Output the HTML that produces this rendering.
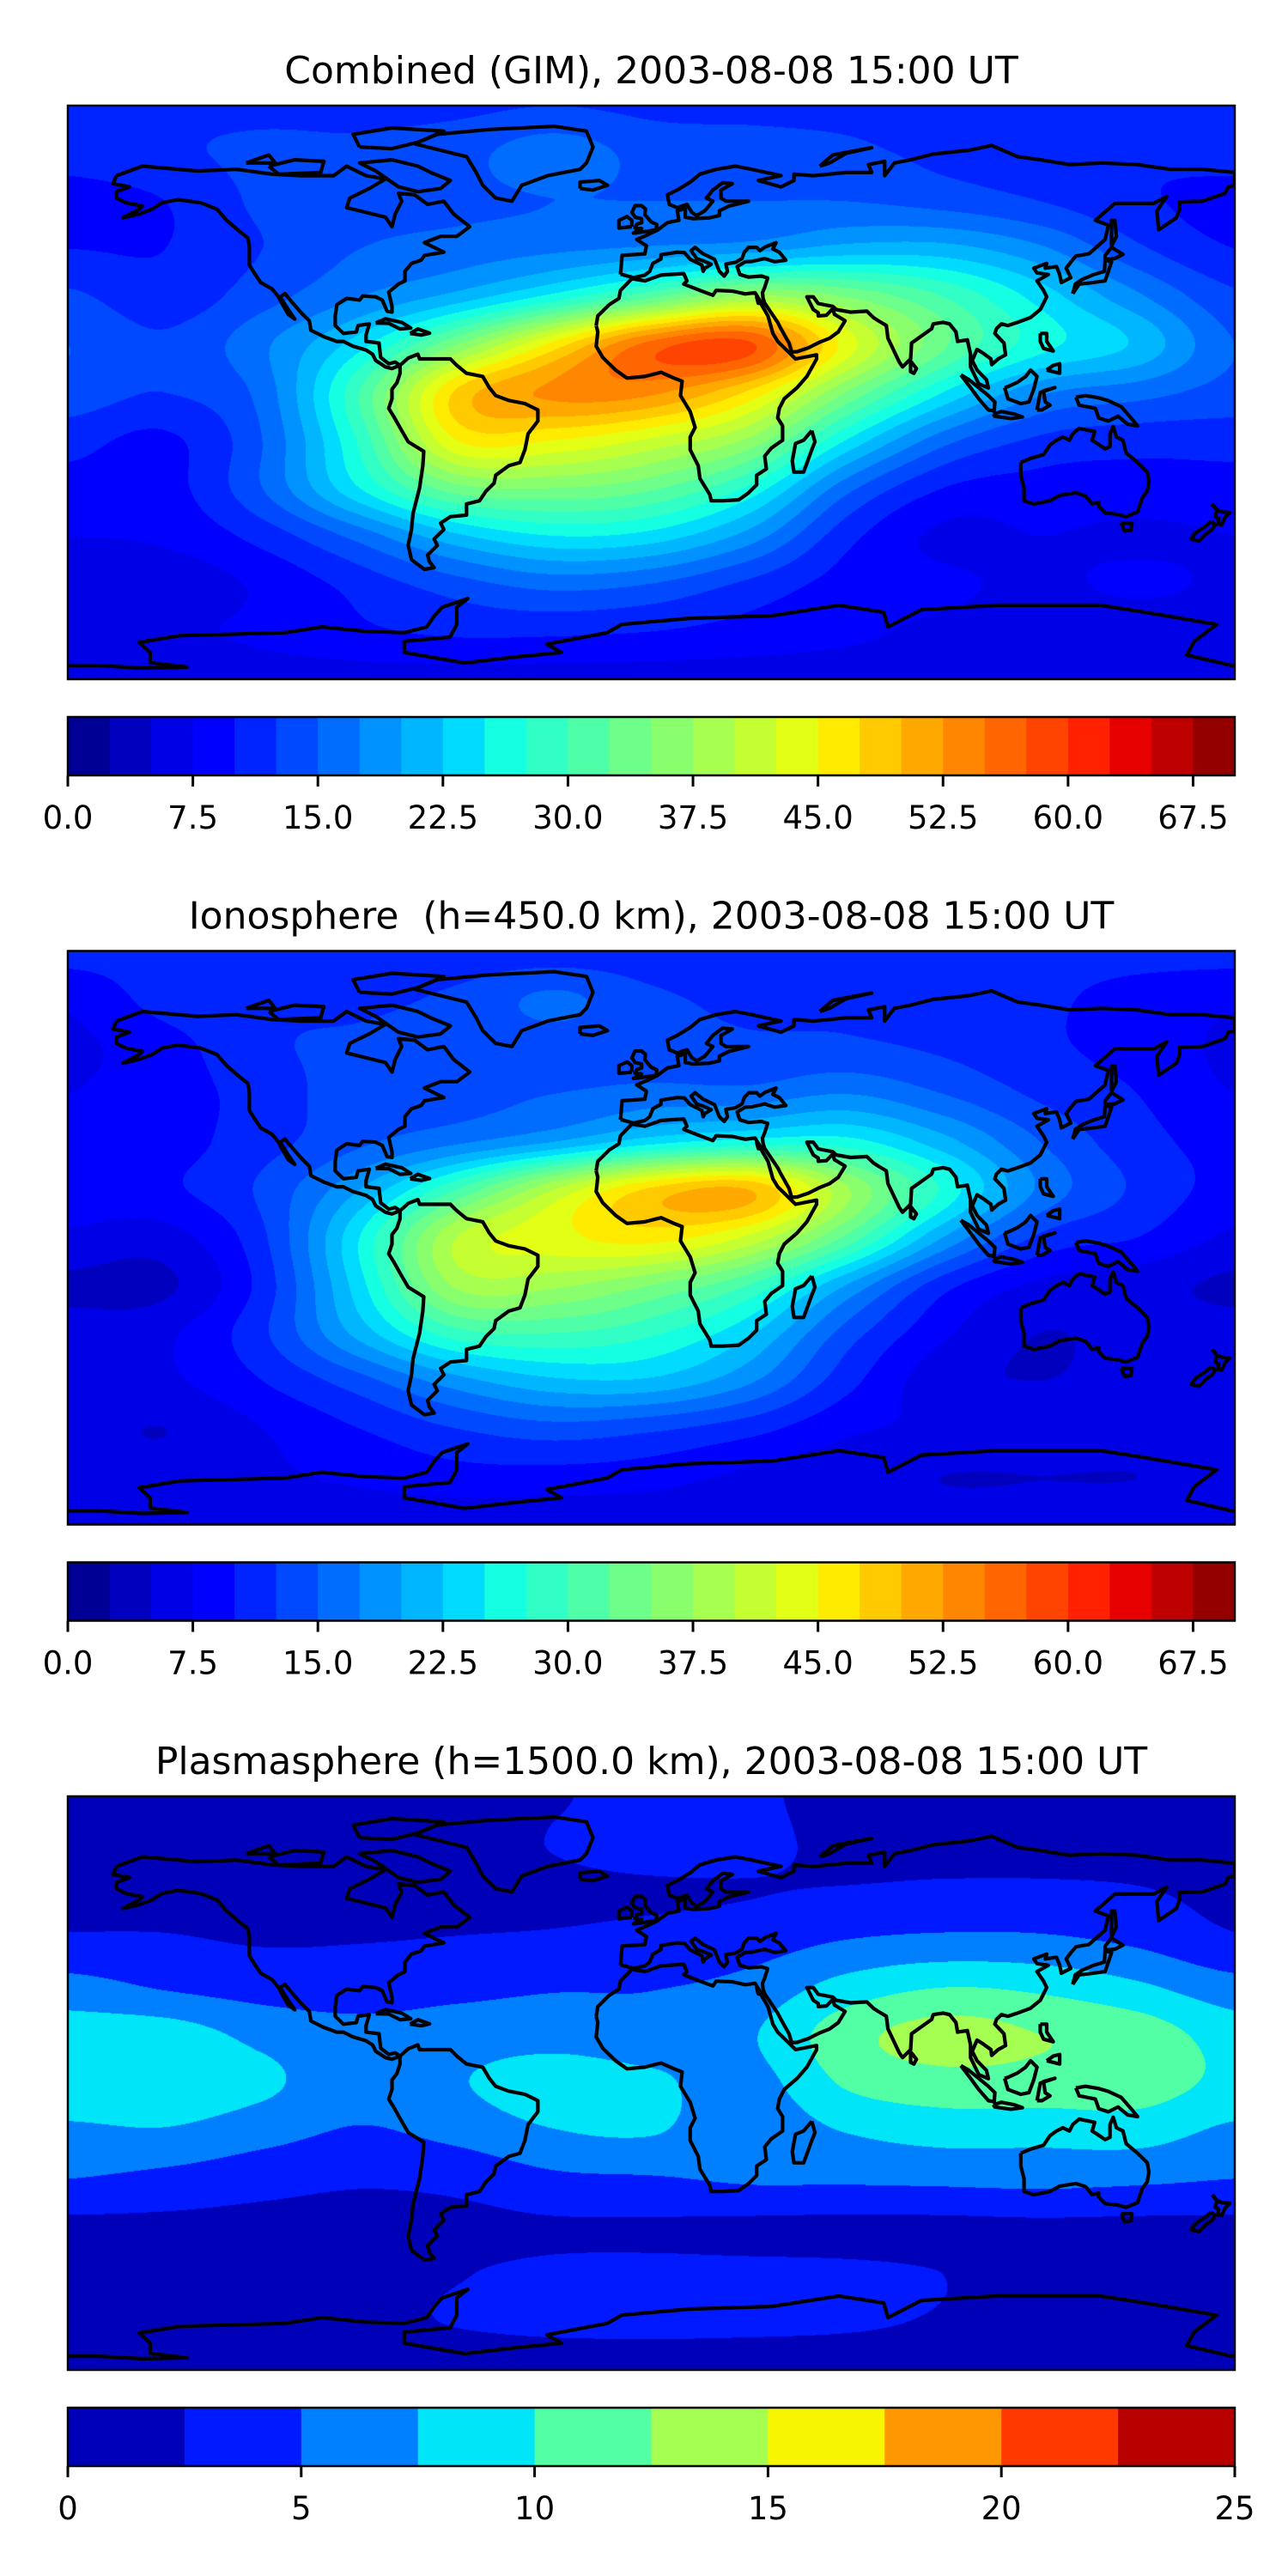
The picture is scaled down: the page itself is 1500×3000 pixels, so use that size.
<!DOCTYPE html>
<html><head><meta charset="utf-8"><title>TEC maps</title>
<style>
html,body{margin:0;padding:0;background:#fff;}
#wrap{position:relative;width:1500px;height:3000px;overflow:hidden;}
canvas{position:absolute;}
svg{position:absolute;left:0;top:0;}
</style></head>
<body>
<div id="wrap">
<canvas id="c0" width="1359" height="668" style="left:79px;top:123px"></canvas>
<canvas id="c1" width="1359" height="668" style="left:79px;top:1107px"></canvas>
<canvas id="c2" width="1359" height="668" style="left:79px;top:2092px"></canvas>
<svg id="ov" width="1500" height="3000" xmlns="http://www.w3.org/2000/svg"></svg>
</div>
<script>
// ---- data ----
const lons = [-180,-150,-120,-90,-60,-30,0,30,60,90,120,150,180];
const lats = [90,75,60,45,30,15,0,-15,-30,-45,-60,-75,-90];
const combinedTEC = [
[11.5,12,12,12,12,12.5,12,12,12,12,12,11.5,11.5],
[11,12,13,13,14,16.5,14,13.5,13,12,11.5,10.5,11],
[9,10,13,14,14.5,15,15,15,15,14,12.5,10.5,9],
[10,10,12.5,15,16,17,18,19,21,21,18,13,10],
[13,11,14,17.5,21,26,32,38,35,30,24,18,13],
[15,13,17,24,35,46,56,58,44,33,26,22,15],
[14,12.5,16,30,48,53,53,47,35,25,18,16,14],
[11,9.5,15,28,45,45,42,37,25,16,12,11,11],
[9,9,15,25,34,35,33,27,16,10,9,9,9],
[7.5,8,11,16,22,25,24,19,11,7,7.5,7,7.5],
[7,6,8,11,14,16,15,12,9,8,7,8,7],
[6.5,7,8,9.5,10.5,10.5,10,9,8,7,6.5,6,6.5],
[6.5,6.5,6.5,6.5,6.5,6.5,6.5,6.5,6.5,6.5,6.5,6.5,6.5]];
const ionoTEC = [
[11,11,11,11,11,11,11,11,11,11,11,11,11],
[8,11,12,12,13,15.5,13,12,12,11,10.5,9,8],
[7,9,12,13,13.5,14,13.5,13,13,12,10.5,9,7],
[7.5,9,11,14,14,15,16,16,17.5,15,12,10,7.5],
[9,9,11.5,14.5,17,20,24,26,26,21,15,11,9],
[9,9.5,13,20,30,40,48,50,38,27,17,12,9],
[7,6.5,12,25,40,44,46,42,32,20,12,10,7],
[4.5,4.5,11,24,38,38,35,30,20,11,7,6,4.5],
[6,7,12,21,29,30,28,23,14,8,5,6,6],
[6.5,7,10,14,19,22,22,18,11,6,5,6,6.5],
[6,5,7.5,10,12.5,14,13,11,8,7,6.5,6,6],
[5.5,6,7,8,9,9,8.5,7,6,5,5,5,5.5],
[6,6,6,6,6,6,6,6,6,6,6,6,6]];
const plasmaTEC = [
[1.5,1.5,1.5,1.5,1.5,2.3,3.2,3.0,1.5,1.5,1.5,1.5,1.5],
[1.5,1.5,1.5,1.5,1.5,2.6,3.4,3.2,1.8,1.6,1.6,1.5,1.5],
[1.8,1.8,1.5,1.5,1.8,2.0,2.2,2.4,2.7,3.0,3.0,2.7,1.8],
[2.8,2.7,2.3,2.4,2.6,2.8,3.2,3.8,5.0,5.5,5.4,4.5,2.8],
[6.0,4.8,4.0,3.8,4.3,4.8,4.9,5.8,8.5,10,9.5,8.0,6.0],
[8.8,8.8,6.8,5.8,6.3,6.5,6.0,7.2,11.5,13.5,12.5,11.5,8.8],
[9.3,9.3,8.0,6.0,7.3,8.8,8.0,6.5,10.3,11.5,11.5,11.3,9.3],
[7.0,7.3,6.0,4.8,5.8,7.4,7.7,5.8,7.6,8.5,8.4,8.6,7.0],
[5.0,4.3,3.4,2.8,3.2,4.5,4.8,5.3,5.4,5.6,5.8,5.5,5.0],
[1.9,1.9,1.8,1.8,1.9,2.2,2.2,2.0,1.9,1.9,2.0,1.9,1.9],
[1.4,1.4,1.5,1.7,2.4,2.9,3.0,3.0,2.9,2.5,1.8,1.4,1.4],
[1.5,1.6,1.8,2.0,2.6,3.0,3.1,3.0,2.8,2.3,1.8,1.6,1.5],
[1.2,1.2,1.2,1.2,1.2,1.2,1.2,1.2,1.2,1.2,1.2,1.2,1.2]];
const levelMaxIono = 70, levelStepIono = 2.5;
const levelMaxPlasma = 25, levelStepPlasma = 2.5;
const ticksIono = ["0.0","7.5","15.0","22.5","30.0","37.5","45.0","52.5","60.0","67.5"];
const tickValsIono = [0,7.5,15,22.5,30,37.5,45,52.5,60,67.5];
const ticksPlasma = ["0","5","10","15","20","25"];
const tickValsPlasma = [0,5,10,15,20,25];
const titles = ["Combined (GIM), 2003-08-08 15:00 UT","Ionosphere  (h=450.0 km), 2003-08-08 15:00 UT","Plasmasphere (h=1500.0 km), 2003-08-08 15:00 UT"];

// ---- coastlines (lon,lat) ----
const coasts = {
"north-america":[-165,68,-157,71,-140,69.5,-128,70,-117,68.5,-108,68,-98,68,-94,71,-88,68,-82,67,-87,64,-93,61,-94,58,-90,57,-82,55,-80,52,-79,56,-77,60,-78,62.5,-73,62,-69,59,-64,60,-61,56,-56,52,-60,49,-65,49,-70,47,-66,45,-64,44,-70,43,-71,41.5,-74,40.5,-76,38,-76,35,-78,34,-81,31.5,-80,27,-80,25.2,-81.5,25.5,-83,29,-85,30,-89,30.3,-90,29,-94,29.5,-97,27.5,-97.5,24,-97.5,21,-95,18.5,-91,19,-90.5,21,-87,21.5,-88,18,-88,16,-84,15.5,-83.5,11,-81,9,-79,9.5,-77.5,8.5,-80,7.5,-82,8,-85,10,-86,12,-88,13.3,-92,14.5,-95,16,-97,16,-101,17.5,-105,19.5,-105.5,22.5,-108,25,-111,28.5,-113,31,-114.5,30,-112,26,-110,23,-112,24.5,-114,28,-115,30,-117,32.5,-120.5,34.5,-122.5,37.5,-124,40,-124,46,-124.5,48.5,-127,50.5,-131,54,-134,57.5,-139,59.5,-146,60.5,-151,59.5,-154,57.5,-158,56,-163,54.8,-158,57.5,-157,58.5,-162,59.5,-165,61,-165,63,-161,64.5,-166,65.5,-165,68],
"greenland":[-73,78,-66,81,-50,82.5,-30,83.5,-20,82,-18,77,-20,72,-22,70,-32,68,-40,65,-43,60,-48,61,-52,65,-54,69,-57,74,-65,76,-73,78],
"baffin":[-80,73,-72,71,-68,69,-62,66.5,-65,64,-72,63,-78,64.5,-85,69.5,-90,72,-80,73],
"victoria":[-118,71,-110,73,-101,72.5,-102,69,-115,68.5,-118,71],
"ellesmere":[-90,77,-80,76.5,-72,78.5,-64,82,-80,83,-92,81,-90,77],
"banks":[-125,72,-118,74.5,-116,72,-125,72],
"south-america":[-77.5,8.5,-75,10.8,-72,12,-71.5,10.5,-68,10.5,-62,10.5,-60,8.5,-57,6,-52,5,-50,1.5,-48,-1,-44,-2.5,-39,-3.5,-35,-5.5,-35,-9,-38,-13,-39,-18,-40.5,-22,-44,-23,-48,-26,-48.5,-28.5,-51,-31,-53,-34,-57,-35,-57,-38.5,-62,-39,-65,-41,-64,-43,-67,-46,-66,-48,-69,-51,-68.5,-53,-67,-55,-70,-55.5,-74,-52.5,-75,-48,-74,-43,-73.5,-38,-71.5,-30,-70.5,-23,-70.2,-18.5,-75,-15.5,-77,-12,-79.5,-7.5,-81,-5,-80,-2,-80,1,-78.5,3,-77.5,6,-77.5,8.5],
"africa":[-17,21,-16.5,24,-13,27.5,-10,29.5,-9.5,32,-6,35.7,-2,35,3,36.8,10,37.3,11,35,10,34,15,32,19,30.5,20,32,25,31.8,29,30.9,32,31.3,34,28,33,28,32.5,29.9,34,27.5,36,24,37.5,18.5,39,16,42,13,43.5,11.5,44.5,10.5,51,11.8,51,10.5,48,5,45,1.5,41,-2,39.5,-5,39,-8,40.5,-10.5,40.5,-15,37,-17.5,35,-20,35.5,-24,32.5,-26,32.5,-29,30,-31.5,27,-33.7,22,-34,18.5,-34,18,-32,15,-27,14.5,-23,12,-18,12,-14,13.5,-11,12,-6,9,-1,9.5,3.5,7,4.5,3,6.3,-2,5,-7.5,4.5,-11,7,-13.5,9.5,-15,11,-17,14.5,-16.5,19,-17,21],
"madagascar":[49.5,-12,50.5,-15.5,49.5,-18,47,-25,44,-25,43.5,-21.5,44.5,-16,47,-15,49.5,-12],
"eurasia":[-9.5,37,-9,43,-2,43.5,-1.5,46,-4.5,48,-1,49.5,2,51,5,53.3,8.5,54,8,57,10.5,57.7,10.5,55,13,54.5,18,54.8,21,55.5,21,57,24,58.5,30,60,23,60,21.5,61,21.5,63.5,25,65.5,22,65.8,19,63.5,17,61,19,60,16.5,57,14,55.5,12.5,56.5,11,59,8,58,5.5,59,5,62,8,63.5,12,66,15,68.5,20,70,26,71,31,70,40,68,33,66.5,40,64.5,44,66.5,44,68.5,50,68,55,68.5,60,69,68,69,67,71.5,72,72.5,72,68,75,72,80,73,87,74.8,98,76,105,77.5,113,74,120,73,129,71.5,139,72,150,71.5,160,70,170,70,180,69,180,65,178,64.5,177,62.5,170,60,163,59.8,163,57.5,162,54.8,156.5,51,156,57,159,61.5,155,59.3,148,59.3,143,59.3,137,54,141,52.5,140,48,135,43.5,131,42.8,129.5,41,128,39,129.4,36,126.5,34.5,126,37,125,39.5,121.5,39,122,40.5,118,39,119,37.5,122.5,37,119,35,121,32,122,30,120,26,117,23.5,113,22,110,21,108,21.5,106.5,20,106,18.5,108.8,15.5,109.3,11.8,107,10.5,105,8.7,104.8,10.5,102.5,12.2,100.5,13.5,99,10,100.5,7,103.4,4,104,1.4,101,2.7,98.5,8,98.5,12,97.5,16.5,94.5,16,94,19,92,21.5,90,22,87,21.5,86.5,20,80.3,15.5,80,10.5,77.5,8,76.5,9.5,73,17,72.5,21,70,22.5,68.5,23.5,66.5,25.5,61.5,25.2,57,26,56,27,51.5,27.9,50,30,48,30,50,26,51.5,25,51.5,24,54,24.2,56,26.3,56.5,24.5,59.8,22.5,57.7,19,55,17,52,15.8,48.5,14,45,12.8,43.3,12.7,42.5,15.5,40,20,39,22,35,28,34.5,29.5,34.3,31.3,35,33,35.9,35.9,34,36.5,30,36.2,27.3,37,26.5,39.5,29,41,31,41.1,35,42,38,41,41.5,41.5,39.5,44,37.5,45,38.5,47,35,45.6,33.5,44.5,32.5,45.5,30,45.5,28.7,44,28,42,26,40.8,23,40.3,23.5,38,22.5,36.5,21,38,19.5,41.8,16,43.5,13.5,45.5,12.3,44.5,14,42,16,41.3,18.5,40.2,16.5,39,16,38,15.6,40,12,41.8,10.2,43.9,8,44,3,43.2,3,41.9,0.5,40.5,-0.5,38,-2,36.8,-5.5,36,-9,37,-9.5,37],
"great-britain":[-5,50,1.5,51,1.7,52.7,0,53.5,-2,55.8,-1.8,57.6,-3,58.6,-5,58.6,-6,56.5,-5,55,-3,54.5,-3,53.3,-4.5,52.8,-5,51.6,-3,51.4,-5.5,50,-5,50],
"ireland":[-6,52,-6,54,-7.5,55.2,-10,54,-10,51.6,-6,52],
"iceland":[-22,64,-22,66,-16,66.5,-13.5,65,-18,63.5,-22,64],
"novaya-zemlya":[52,71,56,74.5,68,76.8,60,75,55,72,52,71],
"honshu":[130,31,132,34,135,34.3,140,35,141,38,142,41,140,41.5,139.8,38,136.5,37,133,35.5,130.8,34,130,31],
"hokkaido":[140,41.8,143,42,145.5,43.3,142,45.5,140,43,140,41.8],
"sakhalin":[142,46,143.5,49,143,54,142,54,142,50,142,46],
"luzon":[120,18.5,122,18.5,122,16,124,13,121,13.8,120,16,120,18.5],
"mindanao":[122,7,126,6,126,9,124,8.5,122,7],
"borneo":[109,1.5,110,-2,114,-3.5,116.5,-3,118,1,119,5,117,7,115.5,5,113,3.2,110,1.8,109,1.5],
"sumatra":[95.5,5.5,98,4,104,-1,106,-3,105.8,-5.8,104,-5.5,101,-2,98.5,1.5,95.5,5.5],
"java":[105.5,-6.8,108,-6,112,-6.8,114.5,-7.7,111,-8.2,106,-7.5,105.5,-6.8],
"sulawesi":[119,-5.5,120,0,124.5,1.5,121,0.5,121.5,-3,123,-4,120.5,-5.5,119,-5.5],
"new-guinea":[131,-1.5,134,-1,138,-1.7,141,-2.6,145,-4.5,148,-8,150,-10.5,147,-10,144,-7.5,141,-9,138,-8,137,-5,132,-4,131,-1.5],
"australia":[114,-22,114,-26,115,-30,115,-34,118,-35,123,-34,126,-32.3,131,-31.5,134,-32.5,136,-35,138,-34.5,138,-35.7,140,-37.8,144,-38.3,146.5,-39,150,-37.5,151.5,-33,153,-31,153.5,-28,153,-25,150,-22,146.5,-19,145.5,-15,143.5,-14,142.5,-10.7,141.5,-13,141.5,-17,140,-17.7,137.5,-16,136,-15,136.8,-12.3,132,-11.3,130,-13,129,-15,127,-14,125,-15,123,-16.5,122,-18,121,-19.5,117,-20.7,114,-22],
"tasmania":[145,-41,148.3,-41,148,-43.2,146,-43.5,145,-41],
"nz-north":[173,-35,174.5,-36.8,176,-37.5,178.5,-37.7,177,-39.2,176,-41.5,174.8,-41.3,175,-39.5,174,-39,174.5,-37,173,-35],
"nz-south":[172.7,-40.5,174,-41.5,173,-43,171,-44.5,169,-46.6,166.5,-46,168,-44,171,-42,172.7,-40.5],
"cuba":[-85,21.8,-82,23.1,-77,22,-74.2,20.2,-77.5,19.9,-81,21.7,-85,21.8],
"hispaniola":[-74.4,18.5,-72,19.9,-68.4,18.6,-71,18,-74.4,18.5],
"sri-lanka":[80,9.8,81.8,7.5,81,6,80,6.5,80,9.8],
"antarctica":[-180,-85.7,-170.7,-85.7,-157,-86.5,-143.2,-86.2,-154.6,-84.8,-154.6,-81.6,-158,-78.4,-145.3,-76.3,-113,-75.4,-101.6,-73.6,-88,-75,-76.2,-75.4,-69.3,-73.6,-66.9,-70.1,-64.5,-67.4,-56.6,-64.7,-60,-67.4,-60,-72.8,-62.1,-76.8,-76.2,-78.1,-76.2,-81.6,-57.6,-84.9,-41.5,-83,-27.7,-81.6,-32.2,-79,-13.6,-75.4,-9.1,-72.8,11.8,-70.9,37.2,-70.1,57.9,-66.8,71.7,-69,73,-73.6,83.3,-68.2,106.4,-66.8,138.7,-66.8,152.4,-69,174.4,-72.8,167.5,-78.1,165.2,-82.4,179,-85.7,180,-85.7]
};

// ---- rendering ----
const MAPX=79, MAPW=1359, MAPH=668;
const panelTops=[123,1107.5,2092];
function jet(t){
  function seg(pts){for(let i=1;i<pts.length;i++){if(t<=pts[i][0]){const a=pts[i-1],b=pts[i];return a[1]+(b[1]-a[1])*(t-a[0])/(b[0]-a[0]);}}return pts[pts.length-1][1];}
  const r=seg([[0,0],[0.35,0],[0.66,1],[0.89,1],[1,0.5]]);
  const g=seg([[0,0],[0.125,0],[0.375,1],[0.64,1],[0.91,0],[1,0]]);
  const b=seg([[0,0.5],[0.11,1],[0.34,1],[0.65,0],[1,0]]);
  return [Math.round(r*255),Math.round(g*255),Math.round(b*255)];
}
function cr(p0,p1,p2,p3,t){return 0.5*((2*p1)+(-p0+p2)*t+(2*p0-5*p1+4*p2-p3)*t*t+(-p0+3*p1-3*p2+p3)*t*t*t);}
function drawField(id,grid,vmax,step){
  const cv=document.getElementById(id),ctx=cv.getContext('2d');
  const W=cv.width,H=cv.height,img=ctx.createImageData(W,H),d=img.data;
  const nl=Math.round(vmax/step);const cols=[];for(let i=0;i<nl;i++)cols.push(jet((i+0.5)/nl));
  const nr=grid.length,nc=grid[0].length;
  const g=(r,c)=>grid[Math.max(0,Math.min(nr-1,r))][Math.max(0,Math.min(nc-1,c))];
  const row=new Float64Array(nc);
  for(let y=0;y<H;y++){
    const lat=90-(y+0.5)/H*180; const fr=(lats[0]-lat)/(lats[0]-lats[1]);
    const r0=Math.floor(fr),tr=fr-r0;
    for(let c=0;c<nc;c++)row[c]=cr(g(r0-1,c),g(r0,c),g(r0+1,c),g(r0+2,c),tr);
    for(let x=0;x<W;x++){
      const lon=-180+(x+0.5)/W*360; const fc=(lon-lons[0])/(lons[1]-lons[0]);
      const c0=Math.floor(fc),tc=fc-c0;
      const rv=i=>row[Math.max(0,Math.min(nc-1,i))];
      const v=cr(rv(c0-1),rv(c0),rv(c0+1),rv(c0+2),tc);
      let k=Math.floor(v/step);k=Math.max(0,Math.min(nl-1,k));
      const o=(y*W+x)*4,cc=cols[k];d[o]=cc[0];d[o+1]=cc[1];d[o+2]=cc[2];d[o+3]=255;
    }
  }
  ctx.putImageData(img,0,0);
}
drawField('c0',combinedTEC,levelMaxIono,levelStepIono);
drawField('c1',ionoTEC,levelMaxIono,levelStepIono);
drawField('c2',plasmaTEC,levelMaxPlasma,levelStepPlasma);

const NS='http://www.w3.org/2000/svg';
const ov=document.getElementById('ov');
function mk(tag,attrs,parent){const e=document.createElementNS(NS,tag);for(const k in attrs)e.setAttribute(k,attrs[k]);(parent||ov).appendChild(e);return e;}
const names=['combined','ionosphere','plasmasphere'];
panelTops.forEach((top,p)=>{
  const grp=mk('g',{});
  
  
  const defs=mk('defs',{},grp);
  const cp=mk('clipPath',{id:'clip'+p},defs);
  mk('rect',{x:MAPX,y:top,width:MAPW,height:MAPH},cp);
  const t=mk('text',{x:MAPX+MAPW/2,y:top-26,'text-anchor':'middle','font-family':'DejaVu Sans, Liberation Sans, sans-serif','font-size':44,fill:'#000'},grp);
  t.textContent=titles[p];
  t.style.whiteSpace='pre';
  
  
  const cg=mk('g',{'clip-path':'url(#clip'+p+')',fill:'none',stroke:'#000','stroke-width':4.2,'stroke-linejoin':'round'},grp);
  
  
  for(const key in coasts){
    const a=coasts[key];let s='';
    for(let i=0;i<a.length;i+=2){const x=MAPX+(a[i]+180)/360*MAPW,y=top+(90-a[i+1])/180*MAPH;s+=(i?'L':'M')+x.toFixed(1)+' '+y.toFixed(1);}
    const pth=mk('path',{d:s},cg);
    
    
  }
  const fr=mk('rect',{x:MAPX,y:top,width:MAPW,height:MAPH,fill:'none',stroke:'#000','stroke-width':2.5},grp);
  
  
  const isP=p===2, vmax=isP?levelMaxPlasma:levelMaxIono, step=isP?levelStepPlasma:levelStepIono;
  const labs=isP?ticksPlasma:ticksIono, tv=isP?tickValsPlasma:tickValsIono;
  const cbTop=top+712, cbH=68, nl=Math.round(vmax/step);
  const cb=mk('g',{},grp);
  
  
  const sx=v=>MAPX+v/vmax*MAPW;
  for(let i=0;i<nl;i++){
    const c=jet((i+0.5)/nl);
    const r=mk('rect',{x:sx(i*step),y:cbTop,width:sx((i+1)*step)-sx(i*step)+0.6,height:cbH,fill:'rgb('+c.join(',')+')'},cb);
    
    
  }
  mk('rect',{x:MAPX,y:cbTop,width:MAPW,height:cbH,fill:'none',stroke:'#000','stroke-width':2.5},cb);
  tv.forEach((v,i)=>{
    const x=sx(v);
    mk('line',{x1:x,x2:x,y1:cbTop+cbH,y2:cbTop+cbH+13,stroke:'#000','stroke-width':3},cb);
    const tl=mk('text',{x:x,y:top+842,'text-anchor':'middle','font-family':'DejaVu Sans, Liberation Sans, sans-serif','font-size':37,fill:'#000'},cb);
    tl.textContent=labs[i];
    
    
  });
});
</script>
</body></html>
